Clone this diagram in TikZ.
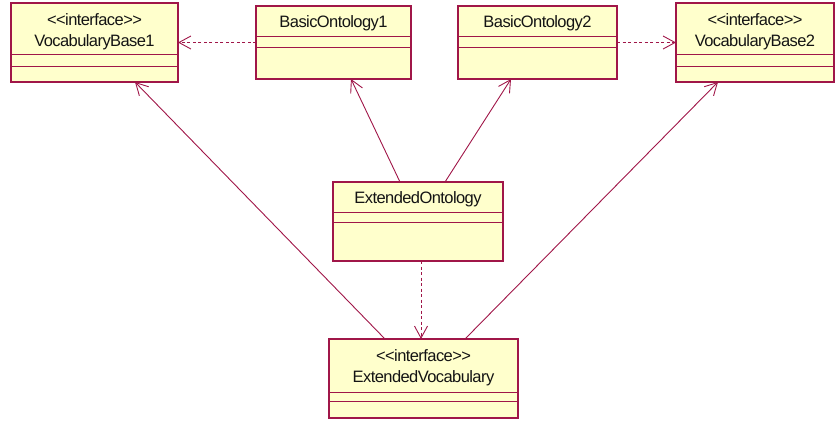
\documentclass[tikz,border=0pt]{standalone}
\usepackage{fontspec}
\setmainfont{Liberation Sans}[LetterSpace=-3.5, Ligatures=TeXOff]
\usetikzlibrary{arrows.meta,calc}

\definecolor{umlline}{RGB}{160,22,72}
\definecolor{umlfill}{RGB}{255,255,204}
\definecolor{umltext}{RGB}{20,20,20}

\tikzset{
  classbox/.style={draw=umlline, fill=umlfill, line width=1.2bp, anchor=north west,
    inner sep=0pt, outer sep=0pt},
  sep/.style={draw=umlline, line width=1bp},
  label/.style={anchor=base, inner sep=0pt, text=umltext,
    font=\fontsize{16.5bp}{19bp}\selectfont},
  assoc/.style={draw=umlline, line width=0.9bp,
    -{Straight Barb[length=12bp, width=13bp, line width=0.9bp]}},
  depend/.style={assoc, dash pattern=on 3bp off 2.5bp}
}

% \umlclass{name}{left}{top}{right}{bottom}{first separator y}{second separator y}
\newcommand{\umlclass}[7]{%
  \node[classbox, minimum width={(#4-#2)*1bp}, minimum height={(#5-#3)*1bp}] (#1) at (#2,#3) {};
  \draw[sep] (#2,#6) -- (#4,#6);
  \draw[sep] (#2,#7) -- (#4,#7);
}

\begin{document}
\begin{tikzpicture}[x=1bp, y=-1bp]
  \useasboundingbox (0,0) rectangle (836,423);

  % class boxes
  \umlclass{vb1}{11}{3}{178}{82}{54}{66}
  \umlclass{bo1}{256}{6}{411}{79}{36}{47}
  \umlclass{bo2}{458}{6}{617}{79}{36}{47}
  \umlclass{vb2}{676}{3}{834}{82}{54}{66}
  \umlclass{eo}{333}{182}{503}{261}{212}{222}
  \umlclass{ev}{329}{339}{518}{418}{392}{401}

  % class names
  \node[label] (vb1s) at (94.5,25) {{<}{<}interface{>}{>}};
  \node[label] (vb1n) at (94.5,46) {VocabularyBase1};
  \node[label] (bo1n) at (333.5,27) {BasicOntology1};
  \node[label] (bo2n) at (537.5,27) {BasicOntology2};
  \node[label] (vb2s) at (755,25) {{<}{<}interface{>}{>}};
  \node[label] (vb2n) at (755,46) {VocabularyBase2};
  \node[label] (eon) at (418,203.5) {ExtendedOntology};
  \node[label] (evs) at (423.5,361) {{<}{<}interface{>}{>}};
  \node[label] (evn) at (423.5,382) {ExtendedVocabulary};

  % dependencies
  \draw[depend] (bo1.west) -- (vb1.east);
  \draw[depend] (bo2.east) -- (vb2.west);
  \draw[depend] ($(eo.south west)+(88,0)$) -- ($(ev.north west)+(92,0)$);

  % associations
  \draw[assoc] ($(eo.north west)+(67,0)$) -- ($(bo1.south west)+(95,0)$);
  \draw[assoc] ($(eo.north west)+(112,0)$) -- ($(bo2.south west)+(53,0)$);
  \draw[assoc] ($(ev.north west)+(56,0)$) -- ($(vb1.south west)+(124,0)$);
  \draw[assoc] ($(ev.north west)+(136,0)$) -- ($(vb2.south west)+(42,0)$);
\end{tikzpicture}
\end{document}
